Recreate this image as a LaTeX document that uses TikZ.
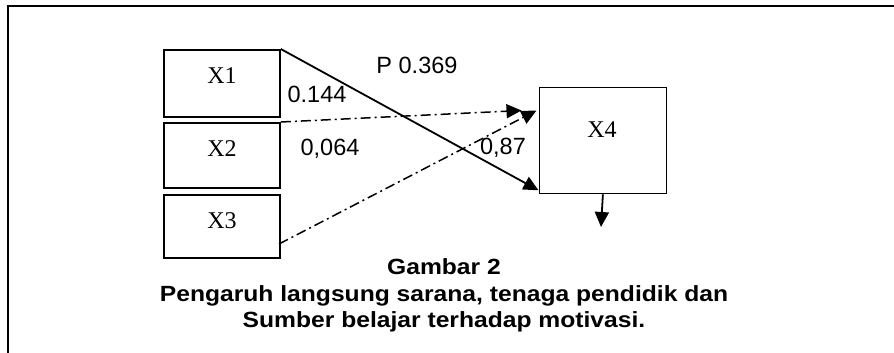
\documentclass[tikz,border=0pt]{standalone}
\usepackage{fontspec}
\setmainfont{Liberation Serif}
\newfontfamily\numfont{Liberation Sans}
\newfontfamily\capfont[FakeStretch=1.12]{Liberation Sans}
\usetikzlibrary{arrows.meta,calc}
\tikzset{
  box/.style={draw, line width=1.8pt, inner sep=0pt, anchor=north west},
  boxtext/.style={font=\fontsize{24}{28}\selectfont, inner sep=0pt},
  numtext/.style={font=\numfont\fontsize{23.5}{27}\selectfont, inner sep=0pt},
  tip/.style={-{Triangle[length=15pt,width=14pt]}},
  solidarrow/.style={tip, line width=1.8pt},
  dasharrow/.style={tip, line width=1.5pt, dash pattern=on 10pt off 4pt on 2pt off 4pt}
}
\begin{document}
\begin{tikzpicture}[x=1pt,y=-1pt]
\useasboundingbox (0,0) rectangle (894,353);
% frame
\draw[line width=2pt] (7.5,360) -- (7.5,6) -- (900,6);
% boxes
\node[box, minimum width=116pt, minimum height=67pt] (x1) at (163,49) {};
\node[box, minimum width=116pt, minimum height=65pt] (x2) at (163,122) {};
\node[box, minimum width=116pt, minimum height=63pt] (x3) at (163,194) {};
\node[box, minimum width=127pt, minimum height=106pt] (x4) at (538.5,86.5) {};
\node[boxtext] (x1t) at (222,76) {X1};
\node[boxtext] (x2t) at (222,149) {X2};
\node[boxtext] (x3t) at (222,221) {X3};
\node[boxtext] (x4t) at (602,130) {X4};
% arrow end points
\coordinate (t1) at ([yshift=4pt]x4.south west);
\coordinate (t2) at (521.5,110.5);
\coordinate (t3) at (536.5,110.5);
\coordinate (s3) at (279,244);
\coordinate (t4) at (601,227);
% connectors
\draw[solidarrow] (x1.north east) -- (t1);
\draw[dasharrow] (x2.north east) -- (t2);
\draw[dasharrow] (s3) -- (t3);
\draw[solidarrow] (x4.south) -- (t4);
% labels
\node[numtext] (p) at (417,65) {P 0.369};
\node[numtext] (l1) at (317,94) {0.144};
\node[numtext] (l2) at (330,148.5) {0,064};
\node[numtext] (l3) at (503,148) {0,87};
% caption
\node[font=\capfont\bfseries\fontsize{22}{26.5}\selectfont, align=center, inner sep=0pt] (cap) at (444,295.5)
  {Gambar 2\\Pengaruh langsung sarana, tenaga pendidik dan\\Sumber belajar terhadap motivasi.};
\end{tikzpicture}
\end{document}
